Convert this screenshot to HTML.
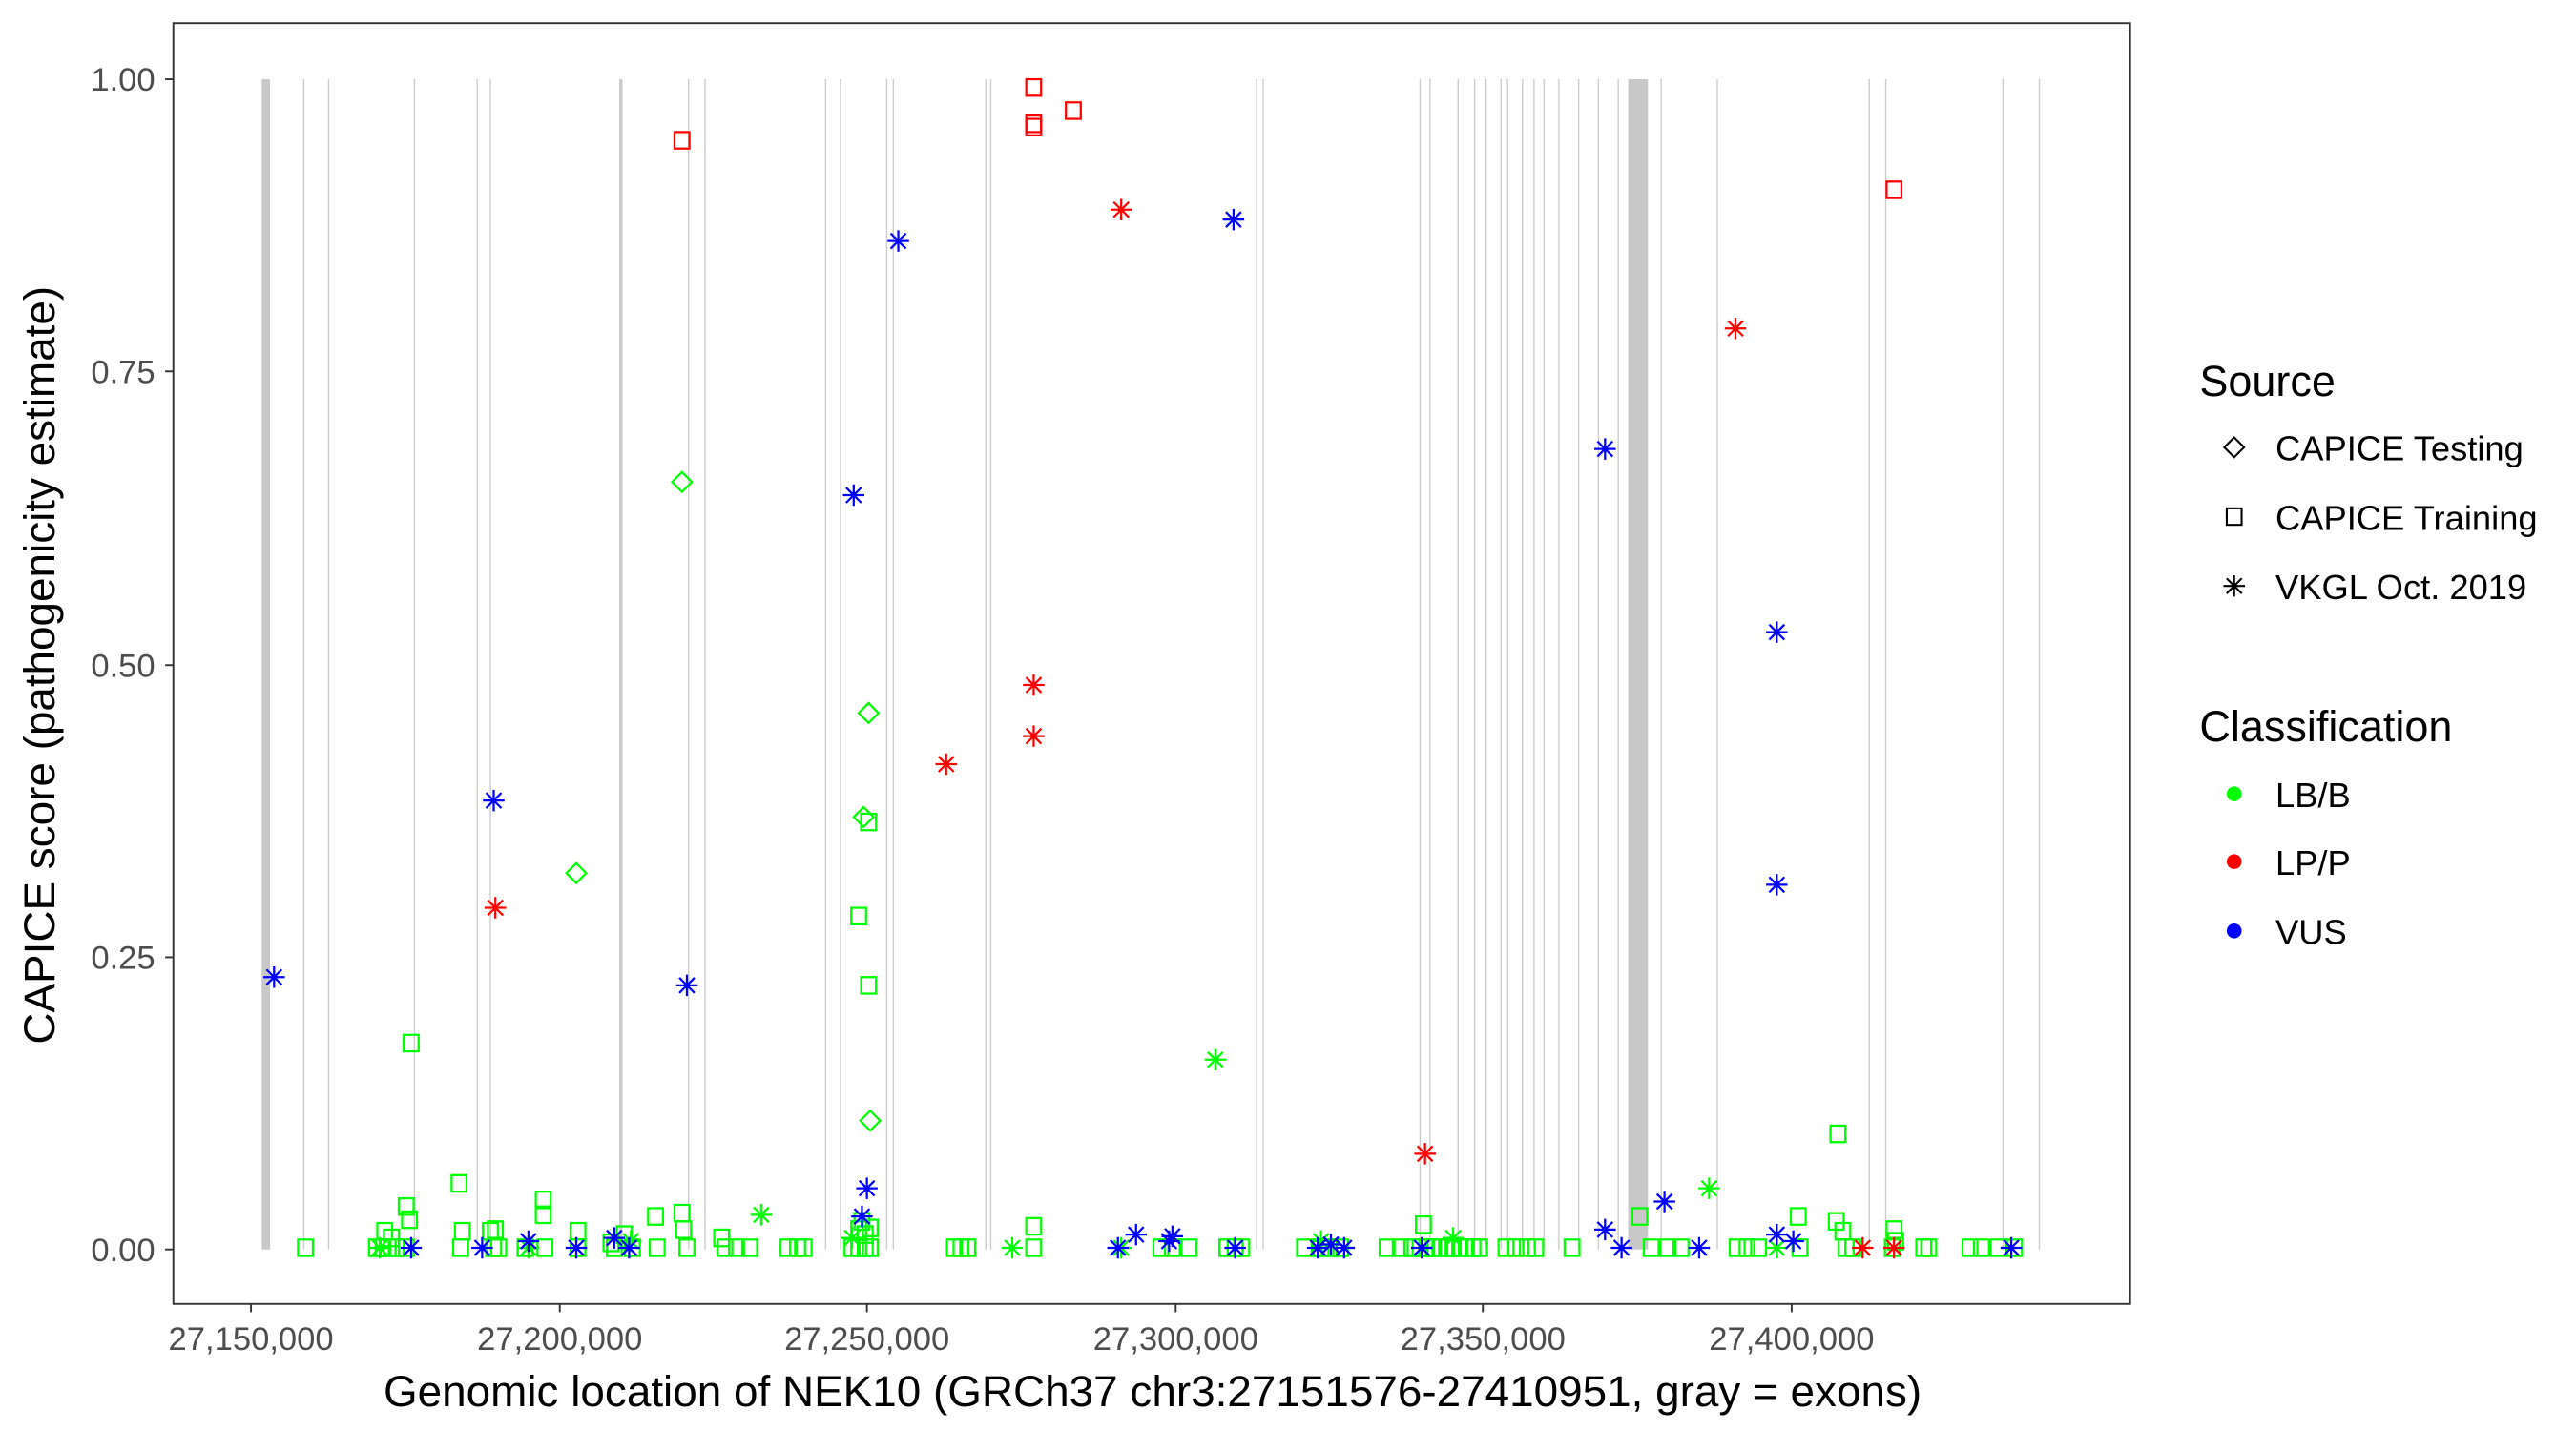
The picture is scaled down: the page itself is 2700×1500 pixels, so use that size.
<!DOCTYPE html>
<html><head><meta charset="utf-8"><style>
html,body{margin:0;padding:0;background:#fff}
svg{display:block}
text{font-family:"Liberation Sans",Arial,sans-serif}
</style></head><body>
<svg id="s" width="2700" height="1500" viewBox="0 0 1560 867" preserveAspectRatio="none" xmlns="http://www.w3.org/2000/svg">
<rect x="0" y="0" width="1560" height="867" fill="#fff"/>
<g id="exons" stroke="#cccccc"></g>
<g id="pts" fill="none" stroke-width="1.3"></g>
<rect x="105" y="14" width="1185" height="776" fill="none" stroke="#333" stroke-width="1.1"/>
<g stroke="#333" stroke-width="1.1">
<line x1="100" y1="48" x2="105" y2="48"/><line x1="100" y1="225" x2="105" y2="225"/><line x1="100" y1="403" x2="105" y2="403"/><line x1="100" y1="580" x2="105" y2="580"/><line x1="100" y1="757" x2="105" y2="757"/>
<line x1="152" y1="790" x2="152" y2="795"/><line x1="339" y1="790" x2="339" y2="795"/><line x1="525" y1="790" x2="525" y2="795"/><line x1="712" y1="790" x2="712" y2="795"/><line x1="898" y1="790" x2="898" y2="795"/><line x1="1085" y1="790" x2="1085" y2="795"/>
</g>
<g fill="#4d4d4d" font-size="20" text-anchor="end">
<text x="94" y="55">1.00</text><text x="94" y="232">0.75</text><text x="94" y="410">0.50</text><text x="94" y="587">0.25</text><text x="94" y="764">0.00</text>
</g>
<g fill="#4d4d4d" font-size="20" text-anchor="middle">
<text x="152" y="818">27,150,000</text><text x="339" y="818">27,200,000</text><text x="525" y="818">27,250,000</text><text x="712" y="818">27,300,000</text><text x="898" y="818">27,350,000</text><text x="1085" y="818">27,400,000</text>
</g>
<text x="698" y="852" font-size="26.5" text-anchor="middle" fill="#000">Genomic location of NEK10 (GRCh37 chr3:27151576-27410951, gray = exons)</text>
<text transform="translate(33,403) rotate(-90)" font-size="26.5" text-anchor="middle" fill="#000">CAPICE score (pathogenicity estimate)</text>
<text x="1332" y="240" font-size="26" fill="#000">Source</text>
<text x="1378" y="279" font-size="21" fill="#000">CAPICE Testing</text>
<text x="1378" y="321" font-size="21" fill="#000">CAPICE Training</text>
<text x="1378" y="363" font-size="21" fill="#000">VKGL Oct. 2019</text>
<text x="1332" y="449" font-size="26" fill="#000">Classification</text>
<text x="1378" y="489" font-size="21" fill="#000">LB/B</text>
<text x="1378" y="530" font-size="21" fill="#000">LP/P</text>
<text x="1378" y="572" font-size="21" fill="#000">VUS</text>
<circle cx="1353" cy="481" r="4.5" fill="#00ff00"/>
<circle cx="1353" cy="522" r="4.5" fill="#ff0000"/>
<circle cx="1353" cy="564" r="4.5" fill="#0000ff"/>
<g id="leg" fill="none" stroke="#000" stroke-width="1.2"></g>
</svg>
<script>
var NS="http://www.w3.org/2000/svg";
function el(p,t,a){var e=document.createElementNS(NS,t);for(var k in a)e.setAttribute(k,a[k]);p.appendChild(e);return e;}
var ex=document.getElementById('exons');
var thin=[184,199,251,289,297,417,427,500,509,537,541,597,600,761,765,860,866,883,893,900,909,913,922,929,935,944,956,968,980,1006,1040,1132,1142,1213,1235];
thin.forEach(function(x){el(ex,'line',{x1:x,y1:48,x2:x,y2:757,'stroke-width':0.8});});
el(ex,'rect',{x:158.5,y:48,width:5,height:709,fill:'#c8c8c8',stroke:'none'});
el(ex,'rect',{x:986,y:48,width:12,height:709,fill:'#c8c8c8',stroke:'none'});
el(ex,'line',{x1:376,y1:48,x2:376,y2:757,'stroke-width':2});
var C={g:'#00ff00',r:'#ff0000',b:'#0000ff'};
var P=document.getElementById('pts');
function sq(p,x,y,c){el(p,'rect',{x:x-4.5,y:y-5,width:9,height:10,stroke:c});}
function st(p,x,y,c){var r=6.5,d=4.6;el(p,'path',{d:'M'+x+' '+(y-r)+'V'+(y+r)+'M'+(x-r)+' '+y+'H'+(x+r)+'M'+(x-d)+' '+(y-d)+'L'+(x+d)+' '+(y+d)+'M'+(x-d)+' '+(y+d)+'L'+(x+d)+' '+(y-d),stroke:c});}
function di(p,x,y,c){var r=6;el(p,'path',{d:'M'+x+' '+(y-r)+'L'+(x+r)+' '+y+'L'+x+' '+(y+r)+'L'+(x-r)+' '+y+'Z',stroke:c});}
[185,228,232,235,240,246,279,299,302,318,330,350,372,383,398,416,439,446,454,477,483,487,516,520,524,527,578,582,586,626,703,710,720,743,748,752,790,800,805,812,840,848,855,860,864,868,872,876,880,884,888,892,896,912,918,925,930,952,1000,1010,1018,1052,1058,1065,1090,1118,1122,1146,1165,1168,1193,1200,1210,1220].forEach(function(x){sq(P,x,756,C.g);});
[[249,632],[520,555],[526,498],[526,597],[278,717],[329,727],[1113,687],[1089,737],[246,731],[248,739],[329,736],[397,737],[413,735],[862,742],[993,737],[300,745],[1116,746],[626,743],[233,746],[280,746],[297,746],[350,746],[378,748],[414,745],[437,750],[1147,745],[520,745],[524,748],[522,740],[527,744],[1112,740],[1148,752],[237,750],[370,753]].forEach(function(p){sq(P,p[0],p[1],C.g);});
[[736,642],[1035,720],[461,736],[613,756],[679,756],[1076,756],[320,756],[516,750],[880,750],[230,756],[382,752],[800,752]].forEach(function(p){st(P,p[0],p[1],C.g);});
[[413,292],[526,432],[523,495],[349,529],[527,679]].forEach(function(p){di(P,p[0],p[1],C.g);});
[[413,85],[626,53],[626,75],[626,77],[650,67],[1147,115]].forEach(function(p){sq(P,p[0],p[1],C.r);});
[[679,127],[573,463],[626,415],[626,446],[300,550],[1051,199],[863,699],[1128,756],[1147,756]].forEach(function(p){st(P,p[0],p[1],C.r);});
[[166,592],[544,146],[747,133],[517,300],[299,485],[416,597],[972,272],[1076,383],[1076,536],[525,720],[522,737],[1008,728],[972,745],[1076,748],[1086,752],[249,756],[292,756],[320,752],[349,756],[372,750],[381,756],[677,756],[688,748],[708,752],[710,749],[748,756],[798,756],[806,754],[814,756],[861,756],[982,756],[1029,756],[1218,756]].forEach(function(p){st(P,p[0],p[1],C.b);});
var L=document.getElementById('leg');
di(L,1353,271,'#000');sq(L,1353,313,'#000');st(L,1353,355,'#000');
</script>
</body></html>
